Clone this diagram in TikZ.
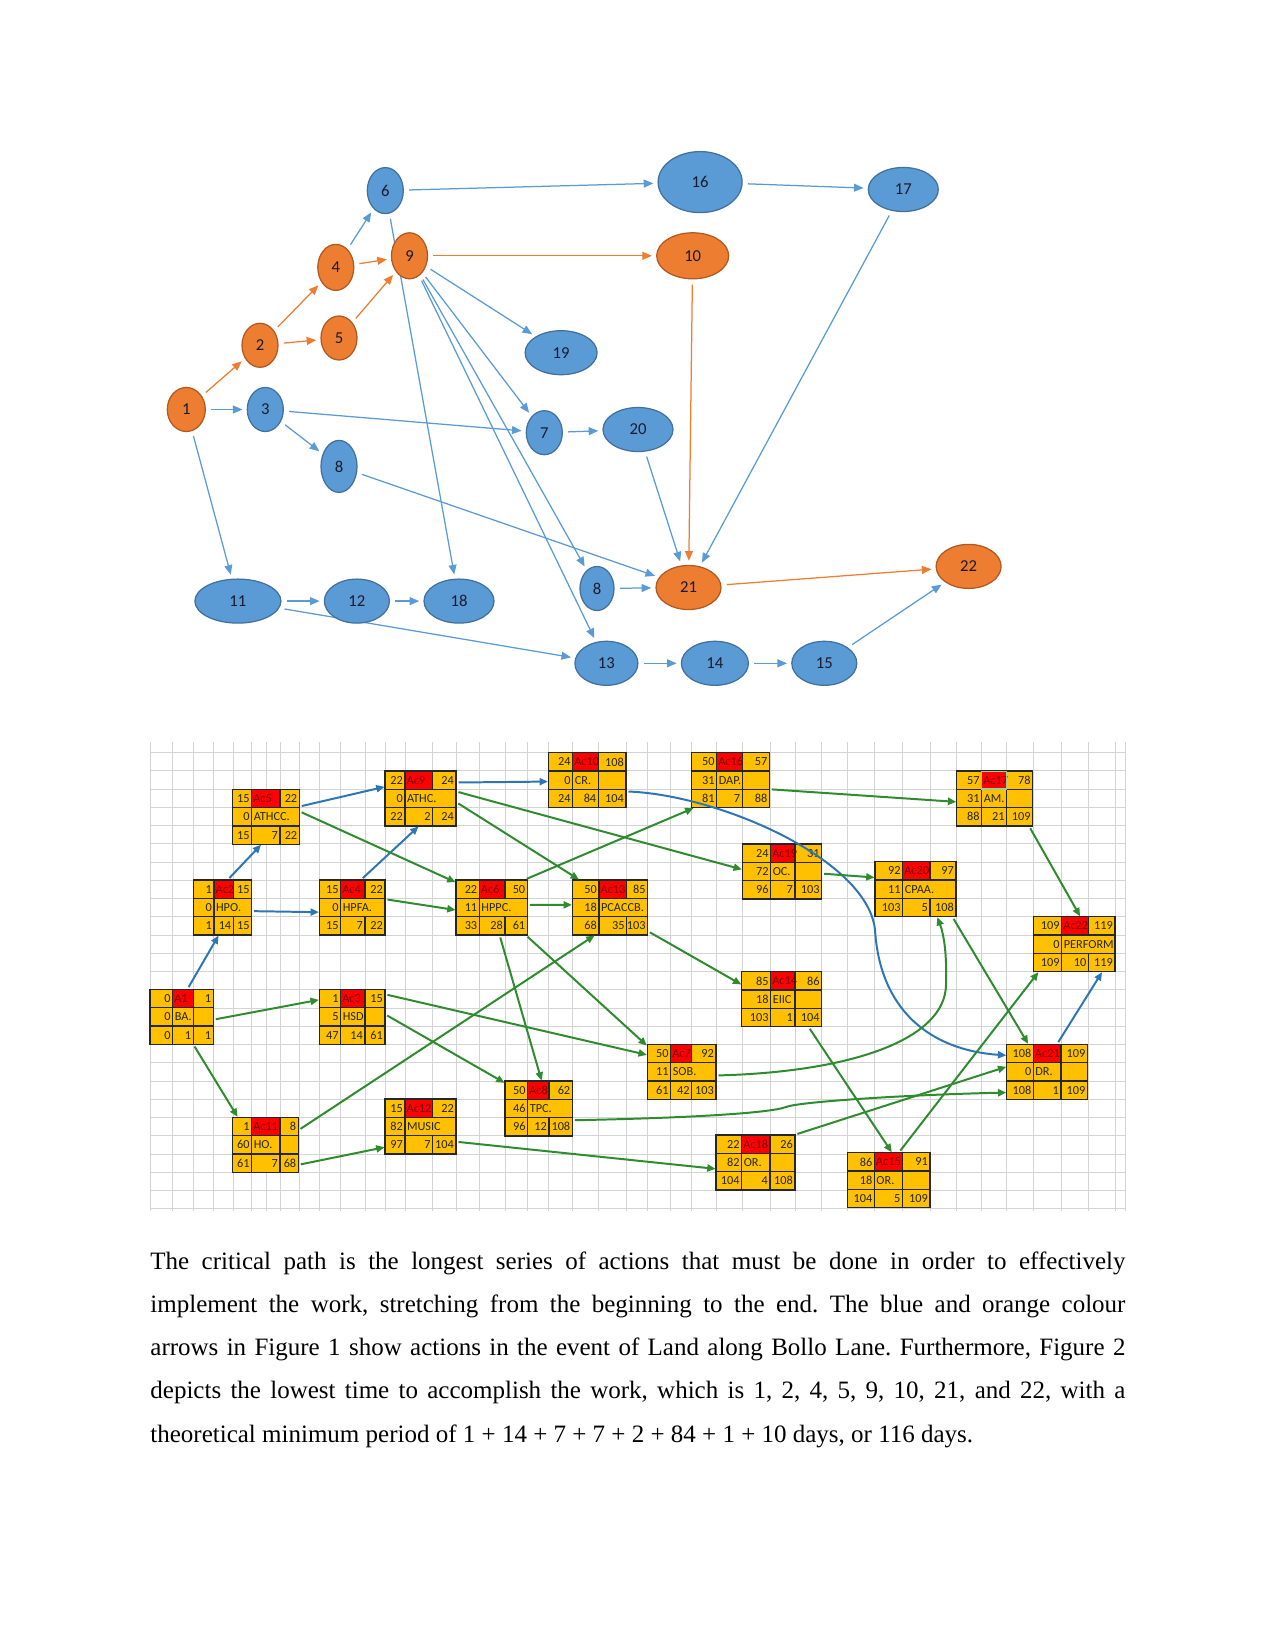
\documentclass[tikz,border=0pt]{standalone}
\usepackage{fontspec}
\setmainfont{Liberation Serif}
\newfontfamily\calib{Carlito}
\usetikzlibrary{shapes.geometric,arrows.meta,fit}
\pgfdeclarelayer{bg}
\pgfsetlayers{bg,main}
\definecolor{nblue}{HTML}{5B9BD5}
\definecolor{nbluedk}{HTML}{41719C}
\definecolor{norange}{HTML}{ED7D31}
\definecolor{norangedk}{HTML}{AE5A21}
\definecolor{boxor}{HTML}{FFC000}
\definecolor{boxred}{HTML}{FF0000}
\definecolor{acred}{HTML}{7A0000}
\definecolor{gline}{HTML}{2E8B2E}
\definecolor{bline}{HTML}{2E75B6}
\definecolor{gridc}{HTML}{D4D4D4}
\definecolor{ntext}{HTML}{1B1B2F}
\tikzset{
 enode/.style={ellipse, line width=0.6pt, inner sep=0pt, font=\calib\fontsize{8}{9}\selectfont, text=ntext},
 bnode/.style={enode, draw=nbluedk, fill=nblue},
 onode/.style={enode, draw=norangedk, fill=norange},
 sz/.style 2 args={minimum width=#1*0.48pt, minimum height=#2*0.48pt},
 arr/.style={line width=0.6pt, -{Triangle[length=4.6pt,width=3.8pt]}, shorten <=2.5pt, shorten >=2pt},
 arrB/.style={arr, draw=nblue},
 arrO/.style={arr, draw=norange},
 gridl/.style={draw=gridc, line width=0.45pt},
 cellb/.style={draw=black!85, line width=0.6pt},
 numr/.style={anchor=east, inner sep=0.8pt, font=\calib\fontsize{5.9}{6}\selectfont, text=black!85},
 acl/.style={anchor=west, inner sep=0.6pt, font=\calib\fontsize{5.9}{6}\selectfont, text=acred},
 labl/.style={anchor=west, inner sep=0.8pt, font=\calib\fontsize{5.9}{6}\selectfont, text=black!85},
 garr/.style={draw=gline, line width=0.95pt, -{Triangle[length=4pt,width=3.4pt]}, shorten <=1pt},
 barr/.style={draw=bline, line width=0.95pt, -{Triangle[length=4pt,width=3.4pt]}, shorten <=1pt},
}
\newcommand\bgeom[6]{\def\bxA{#1}\def\bxB{#2}\def\bxC{#3}\def\bxD{#4}\def\byA{#5}\def\bmerged{#6}}
\newcommand\actbox[9]{%
  \pgfmathsetmacro\byB{\byA+18.33}%
  \pgfmathsetmacro\byC{\byA+36.67}%
  \pgfmathsetmacro\byD{\byA+55}%
  \fill[boxor] (\bxA,\byA) rectangle (\bxD,\byD);
  \fill[boxred] (\bxB,\byA) rectangle (\bxC,\byB);
  \draw[cellb] (\bxA,\byA) rectangle (\bxD,\byD) (\bxA,\byB) -- (\bxD,\byB) (\bxA,\byC) -- (\bxD,\byC)
     (\bxB,\byA) -- (\bxB,\byD) (\bxC,\byA) -- (\bxC,\byB) (\bxC,\byC) -- (\bxC,\byD);
  \ifnum\bmerged=0 \draw[cellb] (\bxC,\byB) -- (\bxC,\byC);\fi
  \node[fit={(\bxA,\byA)(\bxD,\byD)}, inner sep=0pt] (#1) {};
  \node[numr] at (\bxB,\byA+9.17) {#2};
  \node[acl] at (\bxB,\byA+9.17) {#3};
  \node[numr] at (\bxD,\byA+9.17) {#4};
  \node[numr] at (\bxB,\byA+27.5) {#5};
  \node[labl] at (\bxB,\byA+27.5) {#6};
  \node[numr] at (\bxB,\byA+45.83) {#7};
  \node[numr] at (\bxC,\byA+45.83) {#8};
  \node[numr] at (\bxD,\byA+45.83) {#9};
}
\begin{document}
\begin{tikzpicture}[x=0.48pt, y=-0.48pt]
\begin{pgfonlayer}{bg}
\fill[white] (0,0) rectangle (1275,1651);
\end{pgfonlayer}
\useasboundingbox (0,0) rectangle (1275,1651);

% ---------------- top network ----------------
\node[onode, sz={38}{44}] (n1) at (186.3,409.5) {1};
\node[onode, sz={36}{44}] (n2) at (260,345.3) {2};
\node[bnode, sz={36}{44}] (n3) at (265.3,409.5) {3};
\node[onode, sz={36}{46}] (n4) at (335.8,267.4) {4};
\node[onode, sz={36}{44}] (n5) at (339,338) {5};
\node[bnode, sz={36}{46}] (n6) at (385.3,190.6) {6};
\node[onode, sz={36}{46}] (n9) at (409.5,255.8) {9};
\node[bnode, sz={36}{52}] (n8a) at (339,466.4) {8};
\node[bnode, sz={84}{61}] (n16) at (700.1,182.1) {16};
\node[onode, sz={72}{46}] (n10) at (692.7,255.8) {10};
\node[bnode, sz={70}{44}] (n17) at (903.3,189.5) {17};
\node[bnode, sz={72}{44}] (n19) at (561.1,352.7) {19};
\node[bnode, sz={36}{44}] (n7) at (544.3,432.7) {7};
\node[bnode, sz={70}{44}] (n20) at (638,429.5) {20};
\node[bnode, sz={86}{44}] (n11) at (237.9,601.1) {11};
\node[bnode, sz={65}{44}] (n12) at (356.9,601.1) {12};
\node[bnode, sz={70}{44}] (n18) at (459,601.1) {18};
\node[bnode, sz={34}{44}] (n8b) at (597,588.5) {8};
\node[onode, sz={65}{44}] (n21) at (688.5,587.5) {21};
\node[onode, sz={65}{44}] (n22) at (968.6,566.4) {22};
\node[bnode, sz={63}{44}] (n13) at (606.4,663.3) {13};
\node[bnode, sz={67}{44}] (n14) at (714.9,663.3) {14};
\node[bnode, sz={65}{44}] (n15) at (824.3,663.3) {15};

\begin{pgfonlayer}{bg}
\draw[arrO] (n1) -- (n2);
\draw[arrO] (n2) -- (n4);
\draw[arrO] (n2) -- (n5);
\draw[arrO] (n4) -- (n9);
\draw[arrO] (n5) -- (n9);
\draw[arrO] (n9) -- (n10);
\draw[arrO] (n10) -- (n21);
\draw[arrO] (n21) -- (n22);
\draw[arrB] (n1) -- (n3);
\draw[arrB] (n4) -- (n6);
\draw[arrB] (n6) -- (n16);
\draw[arrB] (n16) -- (n17);
\draw[arrB] (n6) -- (n18);
\draw[arrB] (n9) -- (n19);
\draw[arrB] (n9) -- (n7);
\draw[arrB] (n9) -- (n8b);
\draw[arrB] (n9) -- (n13);
\draw[arrB] (n3) -- (n7);
\draw[arrB] (n3) -- (n8a);
\draw[arrB] (n7) -- (n20);
\draw[arrB] (n8a) -- (n21);
\draw[arrB] (n20) -- (n21);
\draw[arrB] (n17) -- (n21);
\draw[arrB] (n1) -- (n11);
\draw[arrB] (n11) -- (n12);
\draw[arrB] (n12) -- (n18);
\draw[arrB] (n11) -- (n13);
\draw[arrB] (n8b) -- (n21);
\draw[arrB] (n13) -- (n14);
\draw[arrB] (n14) -- (n15);
\draw[arrB] (n15) -- (n22);
\end{pgfonlayer}

% ---------------- grid ----------------
\foreach \gx in {150,172.7,193.3,213.5,233,251.7,266,280,299.3,319.3,340.7,365,385,405,432.7,456,479.3,505,527.5,548.3,572.5,598.5,626.3,647.3,670.7,691.7,716,742,770,795,821.7,847.7,874.7,902.5,930,956,981.7,1006.7,1033,1061,1088.3,1115,1125}
  \draw[gridl] (\gx,742) -- (\gx,1211);
\foreach \k in {0,...,25}
  \draw[gridl] (150,{752.7+\k*18.25}) -- (1125,{752.7+\k*18.25});

% ---------------- activity boxes ----------------
\bgeom{150}{172.7}{193.3}{213.3}{989.3}{0}\actbox{A1}{0}{A1}{1}{0}{BA.}{0}{1}{1}
\bgeom{193.3}{214}{233.3}{251.7}{880}{1}\actbox{Ac2}{1}{Ac2}{15}{0}{HPO.}{1}{14}{15}
\bgeom{232.7}{251.7}{280}{299.3}{789.3}{1}\actbox{Ac5}{15}{Ac5}{22}{0}{ATHCC.}{15}{7}{22}
\bgeom{319.3}{340.7}{365}{385}{880}{1}\actbox{Ac4}{15}{Ac4}{22}{0}{HPFA.}{15}{7}{22}
\bgeom{385}{405}{432.7}{456}{771}{1}\actbox{Ac9}{22}{Ac9}{24}{0}{ATHC.}{22}{2}{24}
\bgeom{548.3}{572.7}{598.3}{626}{752.7}{0}\actbox{Ac10}{24}{Ac10}{108}{0}{CR.}{24}{84}{104}
\bgeom{691.7}{716.7}{742.3}{769.3}{752.7}{0}\actbox{Ac16}{50}{Ac16}{57}{31}{DAP.}{81}{7}{88}
\bgeom{956.7}{981.7}{1006.7}{1032.7}{771}{0}\actbox{Ac17}{57}{Ac17}{78}{31}{AM.}{88}{21}{109}
\draw[draw=gray!60!green!60, line width=0.6pt] (981.7,771.3) rectangle (1006.4,789.1);
\bgeom{456}{479.3}{505}{527.3}{880}{1}\actbox{Ac6}{22}{Ac6}{50}{11}{HPPC.}{33}{28}{61}
\bgeom{572.3}{599}{626.7}{647.7}{880}{1}\actbox{Ac13}{50}{Ac13}{85}{18}{PCACCB.}{68}{35}{103}
\bgeom{742.3}{770.7}{795}{821.7}{844}{0}\actbox{Ac19}{24}{Ac19}{31}{72}{OC.}{96}{7}{103}
\bgeom{875}{902.7}{930}{956}{861.7}{1}\actbox{Ac20}{92}{Ac20}{97}{11}{CPAA.}{103}{5}{108}
\bgeom{1033.3}{1061.7}{1088.3}{1115}{916.7}{1}\actbox{Ac22}{109}{Ac22}{119}{0}{PERFORM}{109}{10}{119}
\bgeom{319.3}{340.7}{365}{385}{989.3}{0}\actbox{Ac3}{1}{Ac3}{15}{5}{HSD.}{47}{14}{61}
\bgeom{741.7}{770.7}{795}{821.7}{971.7}{0}\actbox{Ac14}{85}{Ac14}{86}{18}{EIIC}{103}{1}{104}
\bgeom{647.3}{670.7}{691.7}{716}{1044.3}{1}\actbox{Ac7}{50}{Ac7}{92}{11}{SOB.}{61}{42}{103}
\bgeom{505}{527.7}{549}{572.3}{1081}{1}\actbox{Ac8}{50}{Ac8}{62}{46}{TPC.}{96}{12}{108}
\bgeom{1006.7}{1033.3}{1061}{1087.3}{1044.3}{0}\actbox{Ac21}{108}{Ac21}{109}{0}{DR.}{108}{1}{109}
\bgeom{232.7}{251.7}{280}{298.3}{1117.3}{0}\actbox{Ac11}{1}{Ac11}{8}{60}{HO.}{61}{7}{68}
\bgeom{385}{405}{432.7}{456}{1099}{1}\actbox{Ac12}{15}{Ac12}{22}{82}{MUSIC}{97}{7}{104}
\bgeom{716}{741.7}{770}{795}{1135}{0}\actbox{Ac18}{22}{Ac18}{26}{82}{OR.}{104}{4}{108}
\bgeom{847.7}{874.3}{902.3}{930}{1152.7}{0}\actbox{Ac15}{86}{Ac15}{91}{18}{OR.}{104}{5}{109}

% ---------------- blue connectors ----------------
\draw[barr] (A1.78) -- (Ac2.262);
\draw[barr] (Ac2.79) -- (Ac5.260);
\draw[barr] (Ac2.-7) -- (Ac4.188);
\draw[barr] (Ac4.72) -- (Ac9.266);
\draw[barr] (Ac5.17) -- (Ac9.162);
\draw[barr] (Ac9.24) -- (Ac10.182);
\draw[barr] (Ac10.-16) .. controls (720,795) and (868,860) .. (875,930) .. controls (880,1010) and (930,1050) .. (Ac21.158);
\draw[barr] (Ac21.70) -- (Ac22.-45);

% ---------------- green connectors ----------------
\draw[garr] (A1.-5) -- (Ac3.153);
\draw[garr] (A1.-67) -- (Ac11.135);
\draw[garr] (Ac11.24) -- (Ac13.241);
\draw[garr] (Ac11.-31) -- (Ac12.210);
\draw[garr] (Ac12.-23) -- (Ac18.189);
\draw[garr] (Ac5.9) -- (Ac6.145);
\draw[garr] (Ac4.14) -- (Ac6.184);
\draw[garr] (Ac9.-6) -- (Ac13.138);
\draw[garr] (Ac9.11) -- (Ac19.177);
\draw[garr] (Ac6.40) -- (Ac16.217);
\draw[garr] (Ac6.4) -- (Ac13.176);
\draw[garr] (Ac6.-74) -- (Ac8.84);
\draw[garr] (Ac6.-39) -- (Ac7.143);
\draw[garr] (Ac3.34) -- (Ac7.154);
\draw[garr] (Ac3.4) -- (Ac8.143);
\draw[garr] (Ac13.-32) -- (Ac14.160);
\draw[garr] (Ac16.-13) -- (Ac17.185);
\draw[garr] (Ac19.-3) -- (Ac20.164);
\draw[garr] (Ac17.-39) -- (Ac22.78);
\draw[garr] (Ac20.-37) -- (Ac21.124);
\draw[garr] (Ac7.-6) .. controls (850,1072) and (945,1040) .. (946,985) .. controls (947,955) and (944,935) .. (Ac20.-52);
\draw[garr] (Ac8.-19) .. controls (690,1118) and (770,1113) .. (786,1107) .. controls (798,1102) and (900,1095) .. (Ac21.207);
\draw[garr] (Ac18.35) -- (Ac21.173);
\draw[garr] (Ac14.-46) -- (Ac15.84);
\draw[garr] (Ac15.70) -- (Ac22.218);

% ---------------- paragraph ----------------
\node[anchor=north west, inner sep=0pt, text width=468pt, align=justify,
      font=\fontsize{12}{20.7}\selectfont] (para) at (150,1251.5)
{\frenchspacing\tolerance=10000\hyphenpenalty=10000
The critical path is the longest series of actions that must be done in order to effectively\linebreak
implement the work, stretching from the beginning to the end. The blue and orange colour\linebreak
arrows in Figure 1 show actions in the event of Land along Bollo Lane. Furthermore, Figure 2\linebreak
depicts the lowest time to accomplish the work, which is 1, 2, 4, 5, 9, 10, 21, and 22, with a\linebreak
theoretical minimum period of 1 + 14 + 7 + 7 + 2 + 84 + 1 + 10 days, or 116 days.};
\end{tikzpicture}
\end{document}
